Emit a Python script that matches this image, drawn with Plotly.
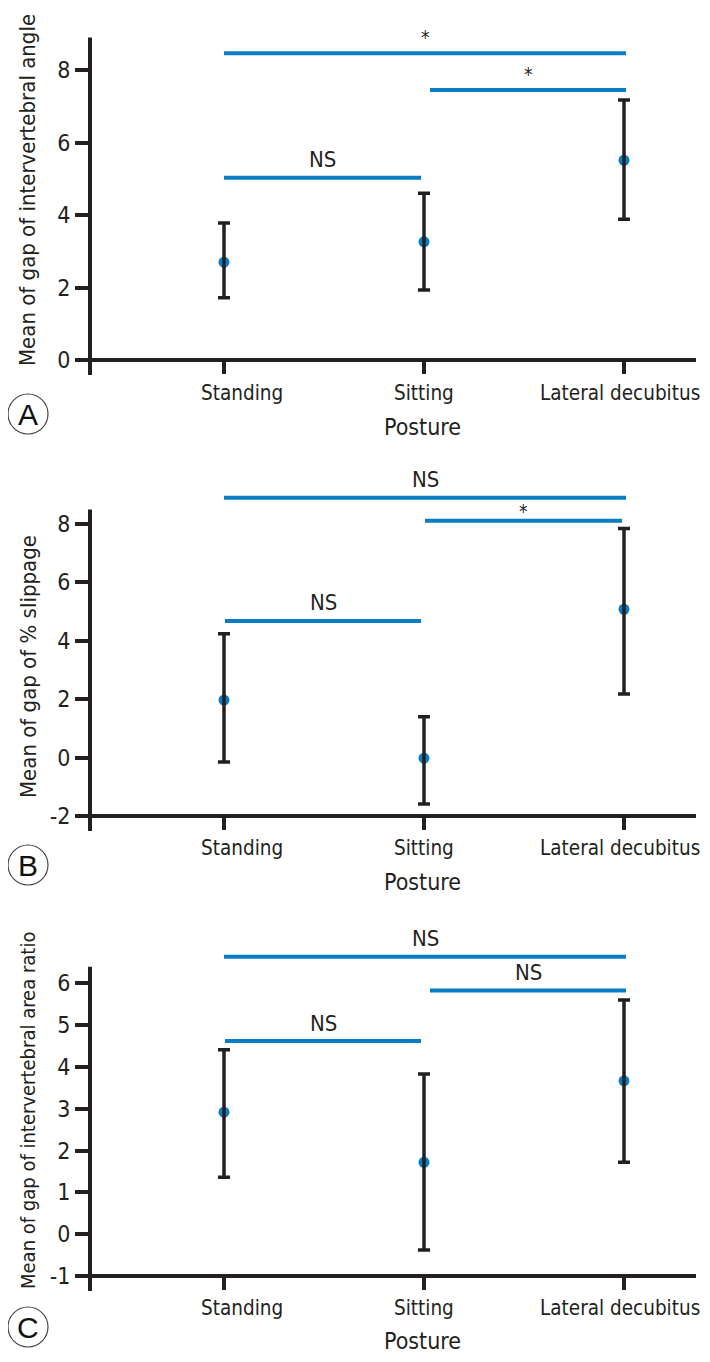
import plotly.graph_objects as go

# page is 710x1362; the browser's default 8px body margin is kept, so the figure is 694x1346
PAGE_W, PAGE_H, MARGIN = 710, 1362, 8
W, H = PAGE_W - 2 * MARGIN, PAGE_H - 2 * MARGIN


def PX(px):  # page x pixel -> paper fraction
    return (px - MARGIN) / W


def PY(py):  # page y pixel -> paper fraction
    return 1 - (py - MARGIN) / H


FONT = "DejaVu Sans Condensed, DejaVu Sans, sans-serif"
INK = "#231f20"
BLUE = "#0a7cc4"

postures = ["Standing", "Sitting", "Lateral decubitus"]
xpos = [0, 1, 2]
label_xshift = [18, 0, -4]   # style: horizontal offset of each category label (px)

# ---- Panel A: intervertebral angle ----
a_mean = [2.70, 3.26, 5.51]
a_upper = [3.78, 4.60, 7.17]
a_lower = [1.72, 1.93, 3.88]
a_ticks = [0, 2, 4, 6, 8]
a_ticktext = ["0", "2", "4", "6", "8"]
a_sig_x0 = [0.0, 1.03, 0.0]
a_sig_x1 = [2.01, 2.01, 0.985]
a_sig_y = [8.46, 7.45, 5.03]
a_sig_lab = ["*", "*", "NS"]

# ---- Panel B: % slippage ----
b_mean = [1.97, -0.02, 5.08]
b_upper = [4.24, 1.40, 7.85]
b_lower = [-0.15, -1.59, 2.18]
b_ticks = [-2, 0, 2, 4, 6, 8]
b_ticktext = ["-2", "0", "2", "4", "6", "8"]
b_sig_x0 = [0.0, 1.005, 0.005]
b_sig_x1 = [2.01, 1.99, 0.985]
b_sig_y = [8.90, 8.11, 4.68]
b_sig_lab = ["NS", "*", "NS"]

# ---- Panel C: intervertebral area ratio ----
c_mean = [2.92, 1.72, 3.67]
c_upper = [4.41, 3.83, 5.60]
c_lower = [1.36, -0.38, 1.72]
c_ticks = [-1, 0, 1, 2, 3, 4, 5, 6]
c_ticktext = ["-1", "0", "1", "2", "3", "4", "5", "6"]
c_sig_x0 = [0.0, 1.03, 0.005]
c_sig_x1 = [2.01, 2.01, 0.985]
c_sig_y = [6.64, 5.83, 4.62]
c_sig_lab = ["NS", "NS", "NS"]

titles = ["Mean of gap of intervertebral angle",
          "Mean of gap of % slippage",
          "Mean of gap of intervertebral area ratio"]
letters = ["A", "B", "C"]

# styling / geometry (page pixels)
panels = [
    dict(mean=a_mean, up=a_upper, lo=a_lower, ticks=a_ticks, tt=a_ticktext,
         sx0=a_sig_x0, sx1=a_sig_x1, sy=a_sig_y, sl=a_sig_lab, lab_shift=[16, 16, 18],
         bottom=360, ymin=0, ppu=36.25, top=18, axtop=8.9, title_c=190, title_fs=22,
         tick_c=393, post_c=427, letter_c=414),
    dict(mean=b_mean, up=b_upper, lo=b_lower, ticks=b_ticks, tt=b_ticktext,
         sx0=b_sig_x0, sx1=b_sig_x1, sy=b_sig_y, sl=b_sig_lab, lab_shift=[18, 10, 18],
         bottom=816, ymin=-2, ppu=29.2, top=462, axtop=8.5, title_c=667, title_fs=22,
         tick_c=848, post_c=882, letter_c=865),
    dict(mean=c_mean, up=c_upper, lo=c_lower, ticks=c_ticks, tt=c_ticktext,
         sx0=c_sig_x0, sx1=c_sig_x1, sy=c_sig_y, sl=c_sig_lab, lab_shift=[18, 18, 18],
         bottom=1276, ymin=-1, ppu=41.8, top=922, axtop=6.4, title_c=1111, title_fs=20,
         tick_c=1308, post_c=1341, letter_c=1327),
]

X_LEFT_PX, X_RIGHT_PX = 90, 696
X0_PX, X_UNIT = 224, 200
xrange_ = [(X_LEFT_PX - X0_PX) / X_UNIT, (X_RIGHT_PX - X0_PX) / X_UNIT]

fig = go.Figure()
shapes, annots = [], []
layout = {}

for i, p in enumerate(panels):
    n = "" if i == 0 else str(i + 1)
    xa, ya = "x" + n, "y" + n
    ymax = p["ymin"] + (p["bottom"] - p["top"]) / p["ppu"]
    err_plus = [u - m for u, m in zip(p["up"], p["mean"])]
    err_minus = [m - l for m, l in zip(p["mean"], p["lo"])]

    # significance bars
    for x0, x1, y, lab, sh in zip(p["sx0"], p["sx1"], p["sy"], p["sl"], p["lab_shift"]):
        fig.add_trace(go.Scatter(x=[x0, x1], y=[y, y], mode="lines",
                                 line=dict(color=BLUE, width=4), xaxis=xa, yaxis=ya,
                                 showlegend=False, hoverinfo="skip"))
        annots.append(dict(x=(x0 + x1) / 2, y=y, xref=xa, yref=ya, text=lab, showarrow=False,
                           yanchor="middle", yshift=sh,
                           font=dict(family=FONT, size=(19 if lab == "*" else 22), color=INK)))

    # means
    fig.add_trace(go.Scatter(x=xpos, y=p["mean"], mode="markers",
                             marker=dict(color=BLUE, size=11), xaxis=xa, yaxis=ya,
                             showlegend=False, cliponaxis=False))
    # error bars drawn over the dots
    fig.add_trace(go.Scatter(x=xpos, y=p["mean"], mode="markers",
                             marker=dict(color="rgba(0,0,0,0)", size=1), xaxis=xa, yaxis=ya,
                             error_y=dict(type="data", symmetric=False, array=err_plus,
                                          arrayminus=err_minus, color=INK, thickness=3.5, width=6),
                             showlegend=False, hoverinfo="skip"))

    dom_y = [PY(p["bottom"]), PY(p["top"])]
    layout["xaxis" + n] = dict(domain=[PX(X_LEFT_PX), PX(X_RIGHT_PX)], range=xrange_, anchor=ya,
                               tickmode="array", tickvals=xpos, showticklabels=False,
                               ticks="outside", ticklen=13, tickwidth=4, tickcolor=INK,
                               automargin=False,
                               showline=False, showgrid=False, zeroline=False, fixedrange=True)
    layout["yaxis" + n] = dict(domain=dom_y, range=[p["ymin"], ymax], anchor=xa,
                               tickmode="array", tickvals=p["ticks"], ticktext=p["tt"],
                               ticks="outside", ticklen=14, tickwidth=4, tickcolor=INK,
                               ticklabeloverflow="allow", automargin=False,
                               showline=False, showgrid=False, zeroline=False,
                               tickfont=dict(family=FONT, size=23, color=INK), fixedrange=True)

    # category labels
    for xv, name, xs in zip(xpos, postures, label_xshift):
        annots.append(dict(x=xv, y=PY(p["tick_c"]), xref=xa, yref="paper", text=name,
                           showarrow=False, xanchor="center", yanchor="middle", xshift=xs,
                           font=dict(family=FONT, size=20.5, color=INK)))

    # axis lines
    h_px = p["bottom"] - p["top"]
    shapes.append(dict(type="line", xref=xa + " domain", yref=ya + " domain",
                       x0=0, x1=1, y0=0, y1=0, line=dict(color=INK, width=4)))
    shapes.append(dict(type="line", xref=xa + " domain", yref=ya + " domain",
                       x0=0, x1=0, y0=-15 / h_px, y1=(p["axtop"] - p["ymin"]) / (ymax - p["ymin"]),
                       line=dict(color=INK, width=4)))

    # y title
    annots.append(dict(x=PX(28), y=PY(p["title_c"]), xref="paper", yref="paper",
                       text=titles[i], textangle=-90, showarrow=False,
                       xanchor="center", yanchor="middle",
                       font=dict(family=FONT, size=p["title_fs"], color=INK)))
    # x title
    annots.append(dict(x=1, y=PY(p["post_c"]), xref=xa, yref="paper", text="Posture",
                       showarrow=False, xanchor="center", yanchor="middle", xshift=-2,
                       font=dict(family=FONT, size=23, color=INK)))
    # panel letter
    cy = PY(p["letter_c"])
    shapes.append(dict(type="circle", xref="paper", yref="paper", xsizemode="pixel", ysizemode="pixel",
                       xanchor=PX(28), yanchor=cy, x0=-20, x1=20, y0=-20, y1=20,
                       line=dict(color="#444444", width=1.2)))
    annots.append(dict(x=PX(28), y=cy, xref="paper", yref="paper", text=letters[i], showarrow=False,
                       xanchor="center", yanchor="middle",
                       font=dict(family="Liberation Sans, Arial, sans-serif", size=30, color="#111111")))

layout.update(dict(width=W, height=H, margin=dict(l=0, r=0, t=0, b=0, autoexpand=False),
                   paper_bgcolor="white", plot_bgcolor="white",
                   shapes=shapes, annotations=annots, showlegend=False))
fig.update_layout(**layout)
fig.write_html("out.html", config={"displayModeBar": False})
